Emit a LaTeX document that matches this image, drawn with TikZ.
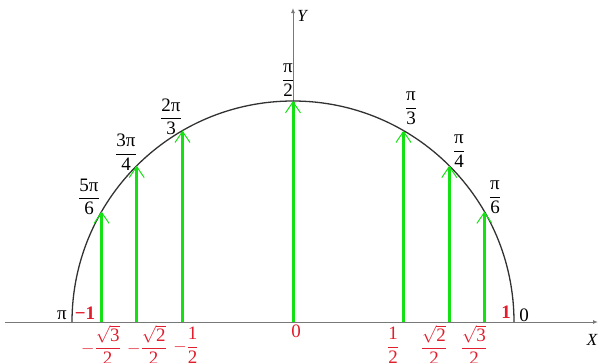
\documentclass[tikz,border=0pt]{standalone}
\usepackage{fontspec}
\setmainfont{Liberation Serif}
\usepackage{amsmath}
\usetikzlibrary{arrows.meta}
\definecolor{arrgreen}{RGB}{20,225,20}
\definecolor{labred}{RGB}{225,30,45}
\definecolor{axgray}{RGB}{120,120,120}
\definecolor{circgray}{RGB}{50,50,50}
\newcommand{\fr}[2]{$\dfrac{\mbox{#1}}{\mbox{#2}}$}
\newcommand{\sq}[1]{\sqrt{\mbox{#1}}}
\begin{document}
\begin{tikzpicture}[x=1pt,y=-1pt,
  lab/.style={inner sep=0pt,font=\fontsize{19}{22}\selectfont},
  redlab/.style={lab,text=labred},
  vec/.style={draw=arrgreen,line width=3pt,-{Straight Barb[length=11pt,width=15pt,line width=1pt]}},
  axis/.style={draw=axgray,line width=1pt,-{Latex[length=5pt,width=4pt]}}]
\useasboundingbox (0,0) rectangle (601,362);
\coordinate (O) at (293,322);
\coordinate (xs) at (5,322);
\coordinate (xe) at (598,322);
\coordinate (ye) at (293,8);
\draw[axis] (xs) -- (xe);
\draw[axis] (O) -- (ye);
\draw[circgray,line width=1.3pt] (514,322) arc[start angle=0,end angle=-180,radius=221];
% axis feet and circle tips
\coordinate (f30) at (484.4,322); \coordinate (t30) at (484.4,211.5);
\coordinate (f45) at (449.3,322); \coordinate (t45) at (449.3,165.7);
\coordinate (f60) at (403.5,322); \coordinate (t60) at (403.5,130.6);
\coordinate (f90) at (293,322);   \coordinate (t90) at (293,101);
\coordinate (f120) at (182.5,322); \coordinate (t120) at (182.5,130.6);
\coordinate (f135) at (136.7,322); \coordinate (t135) at (136.7,165.7);
\coordinate (f150) at (101.6,322); \coordinate (t150) at (101.6,211.5);
\foreach \a in {30,45,60,90,120,135,150} \draw[vec] (f\a) -- (t\a);
% angle labels
\node[lab] (l150) at (89,197) {\fr{5π}{6}};
\node[lab] (l135) at (126,152) {\fr{3π}{4}};
\node[lab] (l120) at (171,117) {\fr{2π}{3}};
\node[lab] (l90) at (288,80) {\fr{π}{2}};
\node[lab] (l60) at (411,108) {\fr{π}{3}};
\node[lab] (l45) at (459,151) {\fr{π}{4}};
\node[lab] (l30) at (495,197) {\fr{π}{6}};
\node[lab] (lpi) at (62,315) {π};
\node[lab] (lzero) at (524,315) {0};
\node[redlab] (lm1) at (85,313) {\textbf{−1}};
\node[redlab] (lp1) at (506,312) {\textbf{1}};
\node[redlab] (lc0) at (296,331) {0};
% cosine labels
\node[redlab] (c150) at (101,345) {$-\dfrac{\sq{3}}{\mbox{2}}$};
\node[redlab] (c135) at (147,345) {$-\dfrac{\sq{2}}{\mbox{2}}$};
\node[redlab] (c120) at (186,345) {$-\dfrac{\mbox{1}}{\mbox{2}}$};
\node[redlab] (c60) at (393,345) {\fr{1}{2}};
\node[redlab] (c45) at (434,345) {$\dfrac{\sq{2}}{\mbox{2}}$};
\node[redlab] (c30) at (474,345) {$\dfrac{\sq{3}}{\mbox{2}}$};
% axis names
\node[lab,font=\fontsize{17}{19}\selectfont\itshape] (xn) at (592,340) {X};
\node[lab,font=\fontsize{17}{19}\selectfont\itshape] (yn) at (302,16) {Y};
\end{tikzpicture}
\end{document}
